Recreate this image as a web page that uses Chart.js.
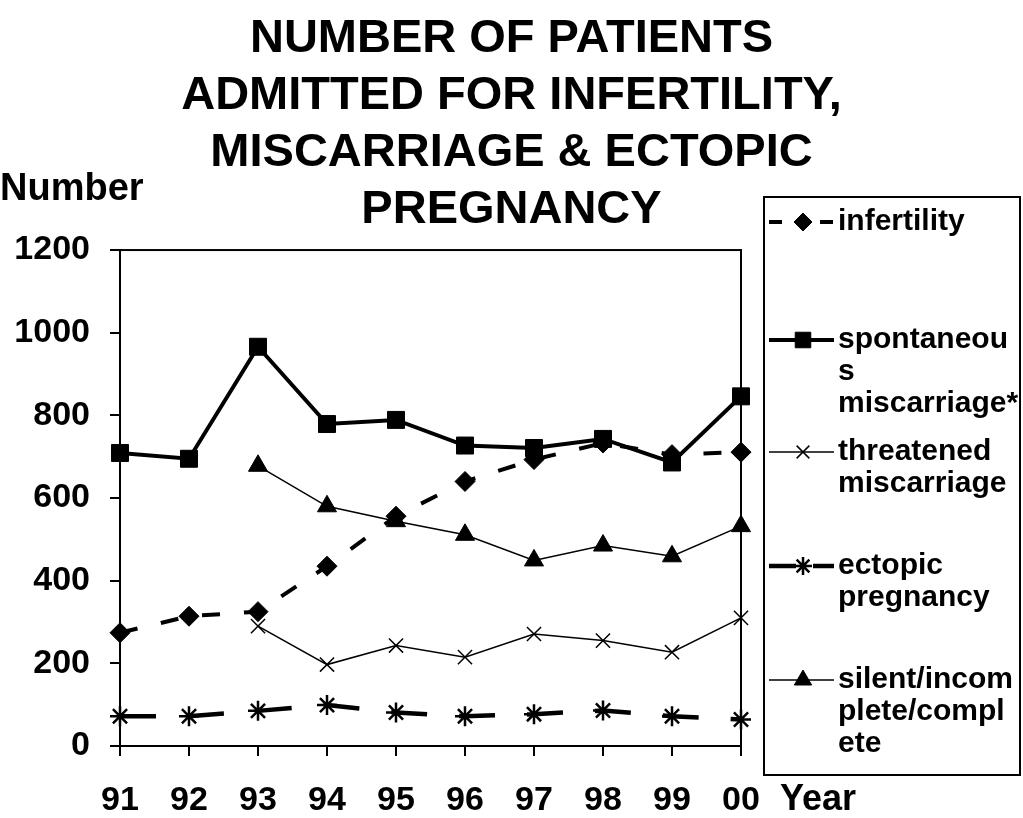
<!DOCTYPE html>
<html>
<head>
<meta charset="utf-8">
<script src="https://cdn.jsdelivr.net/npm/chart.js@4"></script>
<style>
  html, body { margin: 0; padding: 0; background: #fff; }
</style>
</head>
<body>
<canvas id="patientsChart" width="1023" height="818"></canvas>
<script>
var years = ['91', '92', '93', '94', '95', '96', '97', '98', '99', '00'];
var infertility = [274, 314, 325, 435, 556, 640, 693, 733, 705, 711];
var spontaneous = [709, 695, 966, 779, 789, 727, 721, 743, 686, 846];
var threatened = [null, null, 290, 197, 243, 215, 271, 255, 227, 310];
var ectopic = [72, 72, 85, 99, 81, 72, 77, 86, 72, 64];
var silent = [null, null, 678, 580, 544, 511, 449, 485, 459, 532];
var yTicks = [0, 200, 400, 600, 800, 1000, 1200];
var titleLines = ['NUMBER OF PATIENTS', 'ADMITTED FOR INFERTILITY,', 'MISCARRIAGE & ECTOPIC', 'PREGNANCY'];

var FONT = '"Liberation Sans", Arial, Helvetica, sans-serif';
Chart.defaults.font.family = FONT;
Chart.defaults.color = '#000';

// legend entries: text lines and y of first line (drawn by hand, box on the right)
var legendItems = [
    { ds: 0, lines: ['infertility'], y: 222 },
    { ds: 1, lines: ['spontaneou', 's', 'miscarriage*'], y: 340 },
    { ds: 2, lines: ['threatened', 'miscarriage'], y: 452 },
    { ds: 3, lines: ['ectopic', 'pregnancy'], y: 566 },
    { ds: 4, lines: ['silent/incom', 'plete/compl', 'ete'], y: 680 }
];

var extras = {
    id: 'extras',
    afterDraw: function (chart) {
        var ctx = chart.ctx;
        var a = chart.chartArea;
        ctx.save();
        // plot frame
        ctx.strokeStyle = '#000';
        ctx.lineWidth = 2;
        ctx.strokeRect(a.left, a.top, a.right - a.left, a.bottom - a.top);

        ctx.fillStyle = '#000';
        ctx.textBaseline = 'middle';
        ctx.textAlign = 'left';
        ctx.font = 'bold 38px ' + FONT;
        ctx.fillText('Number', 0, 190);
        ctx.font = 'bold 36px ' + FONT;
        ctx.fillText('Year', 780, 800);

        // legend box
        ctx.lineWidth = 2;
        ctx.strokeRect(764, 197, 256, 578);
        ctx.font = 'bold 30px ' + FONT;
        legendItems.forEach(function (item) {
            var ds = chart.data.datasets[item.ds];
            var y = item.y;
            ctx.save();
            ctx.strokeStyle = '#000';
            ctx.lineWidth = ds.borderWidth;
            if (item.ds === 0) ctx.setLineDash([13, 38]);
            if (item.ds === 3) ctx.setLineDash([27, 17]);
            ctx.beginPath();
            ctx.moveTo(769, y);
            ctx.lineTo(834, y);
            ctx.stroke();
            ctx.setLineDash([]);
            ctx.fillStyle = '#000';
            ctx.lineWidth = ds.pointBorderWidth;
            Chart.helpers.drawPoint(ctx, {
                pointStyle: ds.pointStyle,
                radius: ds.pointRadius - 1,
                rotation: 0,
                borderWidth: ds.pointBorderWidth
            }, 803, y);
            ctx.restore();
            item.lines.forEach(function (t, i) {
                ctx.fillText(t, 838, y + i * 32);
            });
        });
        ctx.restore();
    }
};

var ctx = document.getElementById('patientsChart').getContext('2d');

var myChart = new Chart(ctx, {
    type: 'line',
    data: {
        labels: years,
        datasets: [{
            label: 'infertility',
            data: infertility,
            borderColor: '#000',
            backgroundColor: '#000',
            borderWidth: 4,
            borderDash: [18, 24],
            pointStyle: 'rectRot',
            pointRadius: 10,
            pointBorderWidth: 1,
            clip: false
        }, {
            label: 'spontaneous miscarriage*',
            data: spontaneous,
            borderColor: '#000',
            backgroundColor: '#000',
            borderWidth: 4,
            pointStyle: 'rect',
            pointRadius: 12,
            pointBorderWidth: 1,
            clip: false
        }, {
            label: 'threatened miscarriage',
            data: threatened,
            borderColor: '#000',
            backgroundColor: '#000',
            borderWidth: 1.5,
            pointStyle: 'crossRot',
            pointRadius: 10,
            pointBorderWidth: 1.5,
            clip: false
        }, {
            label: 'ectopic pregnancy',
            data: ectopic,
            borderColor: '#000',
            backgroundColor: '#000',
            borderWidth: 4.5,
            borderDash: [36, 32],
            pointStyle: 'star',
            pointRadius: 10,
            pointBorderWidth: 2.5,
            clip: false
        }, {
            label: 'silent/incomplete/complete',
            data: silent,
            borderColor: '#000',
            backgroundColor: '#000',
            borderWidth: 1.5,
            pointStyle: 'triangle',
            pointRadius: 11,
            pointBorderWidth: 1,
            clip: false
        }]
    },
    options: {
        responsive: false,
        animation: false,
        layout: { padding: 0 },
        plugins: {
            legend: { display: false },
            tooltip: { enabled: false },
            title: {
                display: true,
                text: titleLines,
                color: '#000',
                font: { size: 47, weight: 'bold', lineHeight: 1.213 },
                padding: { top: 11, bottom: 11 }
            }
        },
        scales: {
            x: {
                offset: false,
                grid: { drawOnChartArea: false, tickLength: 10, color: '#000', lineWidth: 2 },
                border: { color: '#000', width: 2 },
                ticks: { font: { size: 34, weight: 'bold' }, padding: 24, maxRotation: 0, autoSkip: false },
                afterFit: function (s) { s.height = 72; }
            },
            y: {
                min: 0,
                max: 1200,
                grid: { drawOnChartArea: false, tickLength: 10, color: '#000', lineWidth: 2 },
                border: { color: '#000', width: 2 },
                ticks: {
                    font: { size: 34, weight: 'bold' },
                    padding: 20,
                    callback: function (v) { return String(v); }
                },
                afterBuildTicks: function (s) { s.ticks = yTicks.map(function (v) { return { value: v }; }); },
                afterFit: function (s) { s.width = 120; }
            },
            yRight: {
                type: 'linear',
                position: 'right',
                grid: { display: false },
                border: { display: false },
                ticks: { display: false },
                afterFit: function (s) { s.width = 282; }
            }
        }
    },
    plugins: [extras]
});
</script>
</body>
</html>
